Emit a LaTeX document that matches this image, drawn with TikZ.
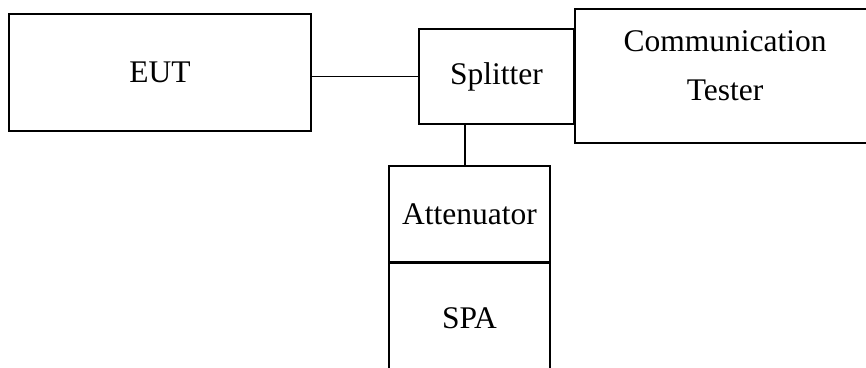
\documentclass[tikz,border=0pt]{standalone}
\usepackage{fontspec}
\setmainfont{Liberation Serif}
\begin{document}
\begin{tikzpicture}[x=1pt,y=-1pt,
  box/.style={draw, line width=1.8pt, rectangle, inner sep=0pt, anchor=center},
  lbl/.style={inner sep=0pt, align=center, font=\fontsize{31.5}{49}\selectfont},
  wire/.style={line width=1.8pt}]
\useasboundingbox (0,0) rectangle (866,367);
\clip (0,0) rectangle (866,367);
\node[box, minimum width=302, minimum height=117, lbl] (eut) at (160,72.5) {EUT};
\node[box, minimum width=155, minimum height=95, lbl] (split) at (496.5,76.5) {Splitter};
\node[box, minimum width=300, minimum height=134] (ct) at (725,76) {};
\node[lbl] (ctlabel) at (725,66) {Communication\\Tester};
\node[box, minimum width=161, minimum height=96, lbl] (att) at (469.5,214) {Attenuator};
\node[box, minimum width=161, minimum height=112, lbl, anchor=north] (spa) at (469.5,262) {};
\node[lbl] (spalabel) at (469.5,318) {SPA};
\coordinate (vx) at (465,0);
\draw[wire] (split.west) -- (split.west -| eut.east);
\draw[wire] (split.south -| vx) -- (att.north -| vx);
\end{tikzpicture}
\end{document}
